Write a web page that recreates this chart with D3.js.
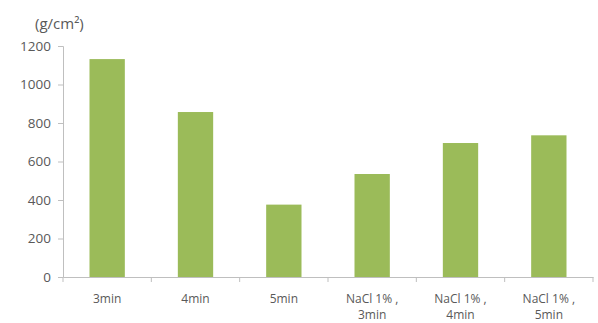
<!DOCTYPE html>
<html><head><meta charset="utf-8">
<script src="https://cdn.jsdelivr.net/npm/d3@7"></script>
<style>
body{margin:0;background:#fff;}
text{font-family:"Open Sans",Lato,sans-serif;}
</style></head>
<body><svg id="c" width="598" height="323"></svg>
<script>
const categories = [["3min"],["4min"],["5min"],["NaCl 1% ,","3min"],["NaCl 1% ,","4min"],["NaCl 1% ,","5min"]];
const values = [1132, 857, 376, 535, 696, 736];
const yTicks = [0,200,400,600,800,1000,1200];
const unitLabel = "(g/cm²)";

const svg = d3.select("#c");
const mLeft = 63, mRight = 593, mTop = 46, mBottom = 277;
const keys = categories.map(c => c.join(" "));
const x = d3.scaleBand().domain(keys).range([mLeft, mRight]).paddingInner(0.6).paddingOuter(0.3);
const y = d3.scaleLinear().domain([0,1200]).range([mBottom, mTop]);

// bars
svg.append("g").selectAll("rect").data(values).join("rect")
  .attr("x",(d,i)=>x(keys[i]))
  .attr("width",x.bandwidth())
  .attr("y",d=>y(d))
  .attr("height",d=>y(0)-y(d))
  .attr("fill","#9bbb59");

// y axis
const ya = svg.append("g").attr("transform",`translate(${mLeft},0)`)
  .call(d3.axisLeft(y).tickValues(yTicks).tickSize(5).tickPadding(7).tickFormat(d3.format("d")));
ya.select(".domain").attr("stroke","#bfbfbf");
ya.selectAll(".tick line").attr("stroke","#bfbfbf");
ya.selectAll(".tick text").attr("fill","#595959").style("font-size","13.5px");

// x axis
const xa = svg.append("g").attr("transform",`translate(0,${mBottom})`)
  .call(d3.axisBottom(x).tickSize(0).tickPadding(0).tickFormat(""));
xa.select(".domain").attr("stroke","#bfbfbf");
// boundary ticks
const step = x.step();
const bounds = d3.range(keys.length+1).map(i => mLeft + i*step);
xa.selectAll(".btick").data(bounds).join("line").attr("class","btick")
  .attr("x1",d=>d).attr("x2",d=>d).attr("y1",0).attr("y2",5).attr("stroke","#bfbfbf");
// labels
const lab = svg.append("g");
categories.forEach((c,i)=>{
  const cx = x(keys[i]) + x.bandwidth()/2;
  const t = lab.append("text").attr("x",cx).attr("y",mBottom+26).attr("text-anchor","middle")
    .attr("fill","#595959").style("font-size","12px");
  c.forEach((s,j)=>{
    t.append("tspan").attr("x",cx).attr("dy", j===0?0:16).text(s);
  });
});

// unit label
svg.append("text").attr("x",35).attr("y",29).attr("fill","#595959").style("font-size","15px").text(unitLabel);
</script></body></html>
